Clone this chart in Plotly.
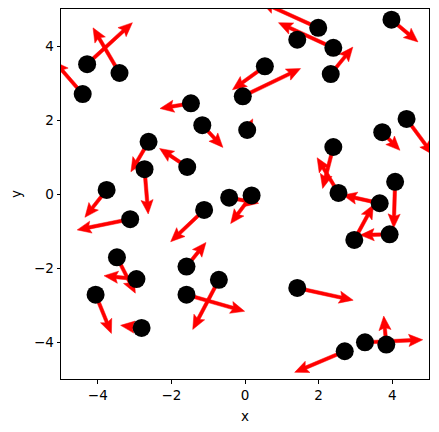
import numpy as np
import plotly.graph_objects as go

# point positions (arrow tails) and arrow vectors
xs = [-4.29, -3.41, -4.41, -1.47, -1.16, -2.62, -1.57, -2.73, -3.76, -3.12,
      -1.11, -0.43, 0.18, -3.48, -2.95, -1.59, -1.59, -0.71, -4.06, -2.81,
      -0.06, 0.54, 0.06, 1.42, 1.99, 2.40, 2.33, 3.98, 4.39, 3.73,
      2.40, 2.54, 4.08, 3.66, 2.97, 3.93, 1.42, 2.71, 3.26, 3.84]
ys = [3.51, 3.27, 2.70, 2.45, 1.86, 1.41, 0.73, 0.67, 0.11, -0.68,
      -0.43, -0.10, -0.04, -1.71, -2.30, -1.96, -2.72, -2.32, -2.72, -3.62,
      2.64, 3.45, 1.73, 4.17, 4.49, 3.95, 3.24, 4.71, 2.03, 1.67,
      1.27, 0.03, 0.33, -0.25, -1.24, -1.09, -2.54, -4.25, -4.01, -4.07]
us = [1.23, -0.72, -0.77, -0.84, 0.56, -0.48, -0.75, 0.10, -0.59, -1.44,
      -0.91, 0.80, -0.57, 0.50, -0.88, 0.53, 1.58, -0.71, 0.43, -0.57,
      1.57, -0.88, 0.15, 0.05, -1.55, -1.49, 0.60, 0.72, 0.72, 0.48,
      -0.29, -0.58, -0.04, -1.00, 0.52, -0.80, 1.52, -1.36, 1.57, -0.07]
vs = [1.12, 1.22, 0.88, -0.14, -0.60, -0.81, 0.50, -1.21, -0.74, -0.29,
      -0.86, -0.15, -0.76, -0.97, 0.09, 0.65, -0.45, -1.34, -1.05, 0.07,
      0.75, -0.63, 0.30, 0.05, 0.70, 0.68, 0.73, -0.60, -0.97, -0.49,
      -1.12, 0.95, -1.25, 0.22, 0.95, -0.02, -0.33, -0.57, 0.07, 0.77]

# arrow geometry in data units (axes are square, ~36.9 px per unit)
W, HW, HL, HAL = 0.092, 0.33, 0.38, 0.33


def arrow_paths(x, y, u, v):
    px, py = [], []
    for x0, y0, du, dv in zip(x, y, u, v):
        L = np.hypot(du, dv)
        d = np.array([du, dv]) / L
        n = np.array([-d[1], d[0]])
        s = min(1.0, L / HL)  # shrink short arrows like quiver does
        w, hw, hl, hal = W * s, HW * s, HL * s, HAL * s
        pts = [(0, -w / 2), (L - hal, -w / 2), (L - hl, -hw / 2), (L, 0),
               (L - hl, hw / 2), (L - hal, w / 2), (0, w / 2), (0, -w / 2)]
        for a, c in pts:
            p = np.array([x0, y0]) + a * d + c * n
            px.append(p[0])
            py.append(p[1])
        px.append(None)
        py.append(None)
    return px, py


ax_, ay_ = arrow_paths(xs, ys, us, vs)

fig = go.Figure()
fig.add_trace(go.Scatter(
    x=ax_, y=ay_, mode="lines", fill="toself",
    fillcolor="#ff0000", line=dict(color="#ff0000", width=0.5),
    hoverinfo="skip"
))
fig.add_trace(go.Scatter(
    x=xs, y=ys, mode="markers",
    marker=dict(size=18, color="black", line=dict(width=0)),
    cliponaxis=True
))

axis_common = dict(
    range=[-5, 5], tickvals=[-4, -2, 0, 2, 4], ticks="outside", ticklen=3.5,
    tickwidth=0.8, tickcolor="black", showline=True, linecolor="black",
    linewidth=1, mirror=True, showgrid=False, zeroline=False, automargin=False,
    tickfont=dict(size=13.5, color="black"),
)
# page body adds 8px around the figure, so margins are offset by that
fig.update_layout(
    width=423, height=416,
    margin=dict(l=53, r=2, t=1, b=45),
    paper_bgcolor="white", plot_bgcolor="white",
    font=dict(family="DejaVu Sans", color="black"),
    showlegend=False,
    xaxis=dict(axis_common, title=dict(text="x", font=dict(size=13.5), standoff=9)),
    yaxis=dict(axis_common, title=dict(text="y", font=dict(size=13.5), standoff=15)),
)

fig.write_html("out.html")
